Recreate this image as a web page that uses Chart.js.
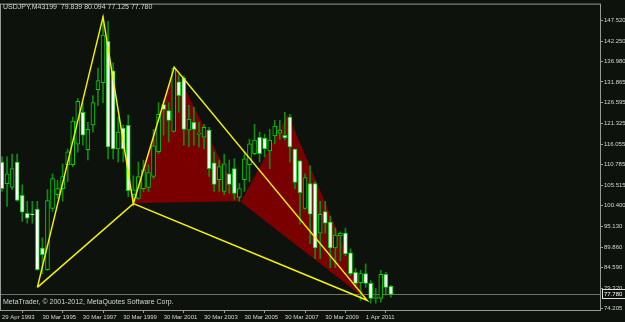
<!DOCTYPE html>
<html>
<head>
<meta charset="utf-8">
<script src="https://cdn.jsdelivr.net/npm/chart.js@4.4.0/dist/chart.umd.min.js"></script>
<style>
  html, body { margin: 0; padding: 0; background: #0e120c; }
</style>
</head>
<body>
<canvas id="myChart" width="625" height="322"></canvas>
<script>
const symbol = "USDJPY,M43199";
const copyright = "MetaTrader, \u00a9 2001-2012, MetaQuotes Software Corp.";

// bottom axis labels and the bar index each one sits on
const dateLabels = ["29 Apr 1993", "30 Mar 1995", "30 Mar 1997", "30 Mar 1999", "30 Mar 2001",
  "30 Mar 2003", "30 Mar 2005", "30 Mar 2007", "30 Mar 2009", "1 Apr 2011"];
const dateIndex = [0, 8, 16, 24, 32, 40, 48, 56, 64, 72];

// price scale labels
const priceTicks = [147.520, 142.250, 136.980, 131.865, 126.595, 121.325, 116.055, 110.785,
  105.515, 100.400, 95.130, 89.860, 84.590, 79.320, 74.205];

// candles (one per bar)
const opens = [111.5, 106.0, 105.0, 111.5, 103.0, 98.4, 98.3, 99.5, 89.6, 84.1,
  99.7, 103.2, 104.7, 110.8, 110.8, 116.0, 124.1, 114.6, 120.9, 129.9,
  131.7, 142.2, 134.7, 114.8, 120.1, 120.8, 103.2, 102.2, 104.7, 105.0,
  107.8, 114.1, 126.1, 124.6, 119.3, 131.9, 132.9, 119.6, 121.6, 118.6,
  117.8, 119.6, 111.3, 107.0, 104.0, 108.5, 109.8, 102.5, 107.0, 110.8,
  113.6, 117.8, 117.6, 114.3, 118.1, 118.8, 118.3, 122.9, 114.8, 111.8,
  99.7, 106.0, 106.0, 93.4, 98.9, 96.2, 89.6, 92.7, 93.4, 88.4,
  83.4, 80.8, 83.1, 80.6, 76.8, 76.8, 82.9, 79.839];
const highs = [112.8, 112.8, 113.5, 113.5, 105.7, 101.5, 101.5, 101.5, 92.2, 104.5,
  108.5, 106.8, 111.0, 114.8, 122.9, 127.6, 126.6, 121.6, 128.4, 135.4,
  148.5, 147.3, 136.7, 122.9, 120.9, 123.4, 108.0, 111.5, 112.0, 110.8,
  119.8, 126.6, 127.1, 126.6, 135.7, 133.7, 133.4, 125.9, 125.4, 121.6,
  121.1, 120.3, 114.1, 112.0, 113.5, 112.0, 112.3, 106.0, 114.1, 117.3,
  121.1, 119.1, 118.6, 119.8, 122.1, 122.1, 124.1, 123.6, 114.8, 112.0,
  108.5, 110.5, 106.5, 101.5, 101.5, 97.7, 94.7, 93.7, 94.7, 89.4,
  84.4, 83.9, 85.6, 81.3, 79.3, 83.9, 83.4, 80.094];
const lows = [104.0, 100.2, 104.5, 101.5, 96.4, 95.9, 95.9, 83.9, 83.1, 83.9,
  98.9, 102.2, 101.5, 106.5, 110.3, 114.0, 115.8, 112.0, 119.1, 125.9,
  126.6, 112.3, 112.3, 111.5, 111.5, 102.7, 101.0, 102.0, 104.0, 104.0,
  107.3, 113.6, 118.3, 116.6, 119.1, 124.1, 115.8, 115.3, 115.8, 115.3,
  114.8, 107.8, 104.0, 104.0, 103.2, 103.5, 102.0, 101.5, 104.0, 106.5,
  113.3, 111.5, 112.8, 109.8, 116.1, 117.3, 117.1, 111.5, 104.7, 95.7,
  99.5, 90.7, 86.9, 86.9, 93.4, 84.6, 84.6, 86.4, 87.6, 82.6,
  79.6, 76.3, 79.6, 75.6, 75.6, 75.8, 77.6, 77.125];
const closes = [104.7, 108.5, 109.8, 101.7, 98.7, 97.2, 98.0, 84.1, 87.9, 101.7,
  107.3, 104.7, 107.8, 114.1, 121.9, 126.9, 118.3, 119.8, 126.6, 132.2,
  143.8, 115.3, 114.8, 119.1, 114.8, 104.2, 104.4, 107.8, 109.5, 108.8,
  115.6, 123.6, 124.9, 122.1, 135.4, 128.4, 119.8, 122.4, 119.8, 118.8,
  120.3, 109.8, 105.8, 110.3, 111.0, 105.8, 103.5, 104.7, 112.3, 116.1,
  117.1, 113.6, 114.8, 117.1, 120.6, 119.6, 117.6, 115.3, 106.3, 103.7,
  107.5, 98.2, 89.6, 98.2, 95.9, 89.6, 92.9, 93.4, 88.1, 83.1,
  80.6, 83.1, 80.6, 76.8, 77.0, 82.9, 79.6, 77.780];

// XABCD pattern, drawn X-A-B-C-D-B-X
const patternBar = [7.0, 20.0, 26.0, 34.1, 72.3, 26.0, 7.0];
const patternPrice = [79.6, 148.4, 100.9, 135.6, 76.3, 100.9, 79.6];

// the two filled triangles
const zone1Bar = [26.0, 34.1, 47.3, 26.0];
const zone1Price = [101.0, 135.6, 101.5, 101.0];
const zone2Bar = [47.3, 56.6, 72.1, 47.3];
const zone2Price = [101.3, 123.6, 76.5, 101.3];

const bg = "#0e120c";
const frameColor = "#9a9a9a";
const textColor = "#d4d4d4";

Chart.defaults.font.family = "'Liberation Sans', Arial, sans-serif";
Chart.defaults.font.size = 6;
Chart.defaults.color = textColor;

const idx = opens.map((v, i) => i);
const bodies = idx.map(i => ({ x: i, y: [opens[i], closes[i]] }));
const wicks = idx.map(i => ({ x: i, y: [lows[i], highs[i]] }));
const bodyFill = idx.map(i => (closes[i] < opens[i] ? "#ffffff" : bg));

const toPoints = (xs, ys) => xs.map((x, i) => ({ x: x, y: ys[i] }));

const mtPlugin = {
  id: "mt",
  beforeDraw(chart) {
    const c = chart.ctx;
    c.save();
    c.fillStyle = bg;
    c.fillRect(0, 0, chart.width, chart.height);
    c.restore();
  },
  beforeDatasetsDraw(chart) {
    // current price line
    const c = chart.ctx, a = chart.chartArea;
    const y = Math.round(chart.scales.y.getPixelForValue(closes[closes.length - 1])) + 0.5;
    c.save();
    c.strokeStyle = "#6e6e6e";
    c.lineWidth = 1;
    c.beginPath();
    c.moveTo(a.left, y);
    c.lineTo(a.right, y);
    c.stroke();
    c.restore();
  },
  afterDraw(chart) {
    const c = chart.ctx, a = chart.chartArea;
    c.save();
    c.strokeStyle = frameColor;
    c.lineWidth = 1;
    c.strokeRect(a.left - 0.5, a.top - 0.5, a.right - a.left, a.bottom - a.top);

    const last = closes.length - 1;
    c.font = "7px 'Liberation Sans', Arial, sans-serif";
    c.fillStyle = textColor;
    c.textBaseline = "middle";
    c.textAlign = "left";
    c.fillText(symbol + "  " + opens[last].toFixed(3) + " " + highs[last].toFixed(3) + " " +
      lows[last].toFixed(3) + " " + closes[last].toFixed(3), 3, 7);
    c.fillText(copyright, 3, a.bottom - 9);

    // price label box
    c.font = "6px 'Liberation Sans', Arial, sans-serif";
    const y = Math.round(chart.scales.y.getPixelForValue(closes[last]));
    c.fillStyle = bg;
    c.fillRect(a.right + 1, y - 5, 24, 10);
    c.strokeStyle = "#e0e0e0";
    c.strokeRect(a.right + 1.5, y - 4.5, 23, 9);
    c.fillStyle = "#ffffff";
    c.fillText(closes[last].toFixed(3), a.right + 3, y + 0.5);
    c.restore();
  }
};

const config = {
  type: "bar",
  data: {
    datasets: [
      {
        type: "line",
        data: toPoints(zone1Bar, zone1Price),
        fill: "shape",
        backgroundColor: "#7a0000",
        borderWidth: 0,
        pointRadius: 0,
        tension: 0,
        order: 10
      },
      {
        type: "line",
        data: toPoints(zone2Bar, zone2Price),
        fill: "shape",
        backgroundColor: "#7a0000",
        borderWidth: 0,
        pointRadius: 0,
        tension: 0,
        order: 10
      },
      {
        data: wicks,
        backgroundColor: "#0f8c0f",
        borderWidth: 0,
        barThickness: 1,
        grouped: false,
        order: 6
      },
      {
        data: bodies,
        backgroundColor: bodyFill,
        borderColor: "#00d400",
        borderWidth: 1,
        borderSkipped: false,
        barThickness: 4,
        minBarLength: 1,
        grouped: false,
        order: 5
      },
      {
        type: "line",
        data: toPoints(patternBar, patternPrice),
        borderColor: "#f0f000",
        borderWidth: 1.5,
        pointRadius: 0,
        fill: false,
        tension: 0,
        order: 1
      }
    ]
  },
  options: {
    responsive: false,
    animation: false,
    layout: { padding: { left: 1, top: 1, right: 0, bottom: 0 } },
    plugins: {
      legend: { display: false },
      tooltip: { enabled: false },
      title: { display: false }
    },
    scales: {
      x: {
        type: "linear",
        min: -0.2,
        max: 118.6,
        offset: false,
        border: { display: false },
        grid: { drawOnChartArea: false, color: frameColor, tickLength: 2 },
        afterBuildTicks: axis => { axis.ticks = dateIndex.map(v => ({ value: v })); },
        afterFit: axis => { axis.height = 11; },
        ticks: {
          autoSkip: false,
          maxRotation: 0,
          align: "start",
          padding: 1,
          color: textColor,
          callback: (v, i) => dateLabels[i]
        }
      },
      y: {
        type: "linear",
        position: "right",
        min: 73.58,
        max: 151.54,
        border: { display: false },
        grid: { drawOnChartArea: false, color: frameColor, tickLength: 2 },
        afterBuildTicks: axis => { axis.ticks = priceTicks.map(v => ({ value: v })); },
        afterFit: axis => { axis.width = 24; },
        ticks: {
          padding: 1,
          color: textColor,
          callback: v => v.toFixed(3)
        }
      }
    }
  },
  plugins: [mtPlugin]
};

const myChart = new Chart(document.getElementById("myChart"), config);
</script>
</body>
</html>
